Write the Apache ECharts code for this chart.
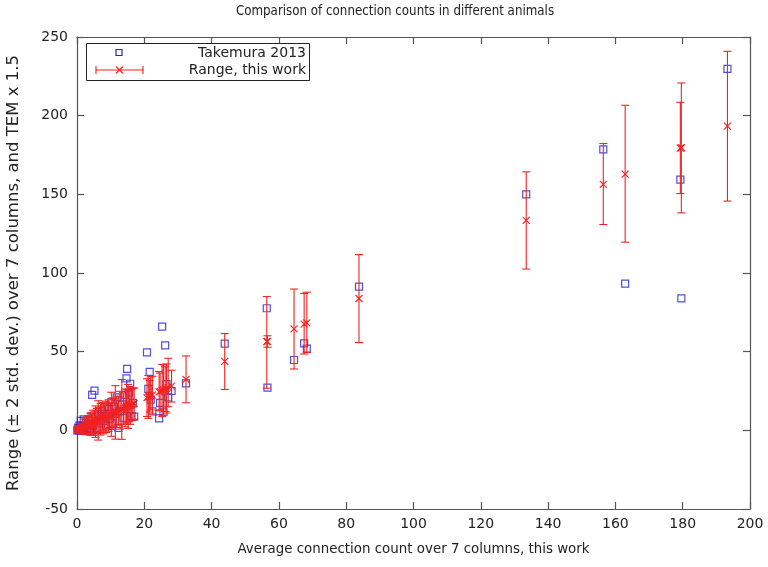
<!DOCTYPE html>
<html>
<head>
<meta charset="utf-8">
<script src="https://cdn.jsdelivr.net/npm/echarts@6/dist/echarts.min.js"></script>
<style>html,body{margin:0;padding:0;background:#fff;}#c{width:768px;height:567px;}</style>
</head>
<body>
<div id="c"></div>
<script>
// ---- data ----
const titleText = "Comparison of connection counts in different animals";
const xAxisName = "Average connection count over 7 columns, this work";
const yAxisName = "Range (\u00b1 2 std. dev.) over 7 columns, and TEM x 1.5";
const seriesNames = ["Takemura 2013", "Range, this work"];
const xTicks = [0, 20, 40, 60, 80, 100, 120, 140, 160, 180, 200];
const yTicks = [-50, 0, 50, 100, 150, 200, 250];

// average connection count (x), also the centre of the red range
const avgCount = [
  0.1, 0.3, 0.5, 0.7, 0.9, 1.1, 1.4, 1.7, 2.0, 2.3, 2.6, 3.0, 3.3, 3.6, 3.9, 4.2, 4.5, 4.8,
  5.2, 5.5, 5.9, 6.3, 6.6, 7.0, 7.4, 7.8, 8.2, 8.6, 9.0, 9.4, 9.8, 10.2, 10.6, 11.0, 11.4,
  11.8, 12.3, 12.8, 13.3, 13.8, 14.3, 14.7, 14.9, 15.2, 15.5, 15.8, 16.2, 16.6, 17.0,
  20.8, 21.2, 21.6, 21.9, 22.4, 24.4, 24.7, 25.3, 25.7, 26.2, 26.6, 27.1, 28.1, 32.4,
  43.9, 56.4, 56.6, 64.5, 67.5, 68.3, 83.8,
  133.5, 156.4, 162.9, 179.3, 179.6, 193.3
];
// lower end of range (mean - 2 sd)
const rangeLow = [
  -0.4, -0.7, -1.0, -1.3, -1.1, -1.9, -1.6, -2.3, -1.5, -2.7, -1.9, -2.5, -2.7, -1.4, -3.1, -2.8, -1.5, -3.2,
  -1.8, -4.5, -2.1, -6.2, -1.4, -3.0, -0.6, -2.2, 0.2, -1.4, 1.0, -0.6, 1.8, -3.8, 0.6, 2.0, -5.6,
  1.8, 3.3, 0.8, -5.7, 3.8, 2.3, 4.7, 3.9, 1.2, 5.5, 3.8, 6.2, 6.6, 7.0,
  8.8, 7.6, 11.6, 13.0, 10.4, 12.4, 13.0, 8.7, 9.7, 12.0, 11.0, 15.0, 18.0, 17.5,
  26.0, 26.8, 52.8, 39.0, 48.5, 49.5, 55.8,
  102.5, 130.8, 119.6, 150.5, 138.2, 145.7
];
// upper end of range (mean + 2 sd)
const rangeHigh = [
  0.6, 1.3, 2.0, 2.7, 2.9, 4.1, 4.4, 5.7, 5.5, 7.3, 7.1, 8.5, 9.3, 8.6, 10.9, 11.2, 10.5, 12.8,
  12.2, 15.5, 13.9, 18.8, 14.6, 17.0, 15.4, 17.8, 16.2, 18.6, 17.0, 19.4, 17.8, 24.2, 20.6, 20.0, 28.4,
  21.8, 21.3, 24.8, 32.3, 23.8, 26.3, 24.7, 25.9, 29.2, 25.5, 27.8, 26.2, 26.6, 27.0,
  32.8, 34.8, 31.6, 34.0, 34.4, 37.4, 36.4, 41.9, 41.7, 40.4, 42.2, 45.8, 38.2, 47.3,
  61.5, 85.0, 60.1, 89.8, 87.0, 87.8, 111.7,
  164.3, 182.3, 206.6, 208.5, 220.8, 240.9
];
// Takemura 2013 TEM counts x 1.5
const takemuraScaled = [
  0.0, 1.5, 0.0, 3.0, 1.5, 6.0, 0.0, 3.0, 7.0, 1.5, 4.5, 0.0, 6.0, 3.0, 1.5, 7.5, 22.5, 3.0,
  25.2, 6.0, 1.5, 10.5, 4.5, 9.0, 12.0, 6.0, 15.0, 3.0, 10.5, 13.5, 7.5, 18.0, 4.5, 15.0, 10.5,
  21.0, 1.5, 12.0, 16.5, 8.0, 22.5, 33.0, 39.0, 13.5, 24.0, 29.6, 9.0, 17.5, 8.7,
  49.6, 26.4, 37.1, 19.5, 12.0, 7.6, 17.5, 65.9, 11.8, 54.0, 29.4, 21.0, 25.0, 29.9,
  55.1, 77.6, 27.1, 44.7, 55.3, 51.9, 91.3,
  150.0, 178.6, 93.2, 159.3, 83.9, 229.7
];

// ---- build chart ----
const BLUE = '#2424d0';
const RED = '#f22222';
const FRAME = '#555555';
const FONT = 'DejaVu Sans';

const blueData = avgCount.map((x, i) => [x, takemuraScaled[i]]);
const redData = avgCount.map((x, i) => [x, rangeLow[i], rangeHigh[i], x]);

function renderErr(params, api) {
  const x = api.value(0);
  const lo = api.coord([x, api.value(1)]);
  const hi = api.coord([x, api.value(2)]);
  const mid = api.coord([x, api.value(3)]);
  const c = 4, m = 3.5;
  const st = { stroke: RED, lineWidth: 1.1, fill: null };
  return {
    type: 'group',
    children: [
      { type: 'line', shape: { x1: lo[0], y1: lo[1], x2: hi[0], y2: hi[1] }, style: st },
      { type: 'line', shape: { x1: lo[0] - c, y1: lo[1], x2: lo[0] + c, y2: lo[1] }, style: st },
      { type: 'line', shape: { x1: hi[0] - c, y1: hi[1], x2: hi[0] + c, y2: hi[1] }, style: st },
      { type: 'line', shape: { x1: mid[0] - m, y1: mid[1] - m, x2: mid[0] + m, y2: mid[1] + m }, style: st },
      { type: 'line', shape: { x1: mid[0] - m, y1: mid[1] + m, x2: mid[0] + m, y2: mid[1] - m }, style: st }
    ]
  };
}

function axisCommon() {
  return {
    axisLine: { show: true, onZero: false, lineStyle: { color: FRAME, width: 1.2 } },
    axisTick: { show: true, inside: true, length: 7, lineStyle: { color: FRAME, width: 1.2 } },
    splitLine: { show: false }
  };
}

const chart = echarts.init(document.getElementById('c'), null, { renderer: 'canvas' });
chart.setOption({
  animation: false,
  backgroundColor: '#ffffff',
  textStyle: { fontFamily: FONT },
  grid: { left: 77, right: 18, top: 37, bottom: 58, containLabel: false, outerBoundsMode: 'none' },
  xAxis: [
    Object.assign({
      type: 'value', min: xTicks[0], max: xTicks[xTicks.length - 1], interval: xTicks[1] - xTicks[0],
      name: xAxisName, nameLocation: 'middle', nameGap: 34,
      nameTextStyle: { fontSize: 13.4, color: '#222', fontFamily: FONT },
      axisLabel: { fontSize: 14, color: '#222', margin: 8, fontFamily: FONT }
    }, axisCommon()),
    Object.assign({
      type: 'value', position: 'top', min: xTicks[0], max: xTicks[xTicks.length - 1], interval: xTicks[1] - xTicks[0],
      axisLabel: { show: false }
    }, axisCommon())
  ],
  yAxis: [
    Object.assign({
      type: 'value', min: yTicks[0], max: yTicks[yTicks.length - 1], interval: yTicks[1] - yTicks[0],
      name: yAxisName, nameLocation: 'middle', nameGap: 55,
      nameTextStyle: { fontSize: 16.5, color: '#222', fontFamily: FONT },
      axisLabel: { fontSize: 14, color: '#222', margin: 9, fontFamily: FONT }
    }, axisCommon()),
    Object.assign({
      type: 'value', position: 'right', min: yTicks[0], max: yTicks[yTicks.length - 1], interval: yTicks[1] - yTicks[0],
      axisLabel: { show: false }
    }, axisCommon())
  ],
  series: [
    {
      name: seriesNames[0], type: 'scatter', data: blueData, symbol: 'rect', symbolSize: 7,
      itemStyle: { color: 'rgba(0,0,0,0)', borderColor: BLUE, borderWidth: 1.2 },
      z: 2
    },
    {
      name: seriesNames[1], type: 'custom', data: redData, renderItem: renderErr,
      encode: { x: 0, y: [1, 2] }, z: 3
    }
  ],
  graphic: [
    { type: 'text', x: 395, y: 11, scaleX: 0.88, style: { text: titleText, align: 'center', verticalAlign: 'middle', fill: '#222', font: '13.5px ' + FONT } },
    { type: 'rect', shape: { x: 86.5, y: 43.5, width: 223, height: 37 }, style: { fill: '#fff', stroke: '#222', lineWidth: 1 }, z: 10 },
    { type: 'rect', shape: { x: 116, y: 49.5, width: 6, height: 6 }, style: { fill: null, stroke: BLUE, lineWidth: 1.2 }, z: 11 },
    { type: 'text', x: 306, y: 53, style: { text: seriesNames[0], align: 'right', verticalAlign: 'middle', fill: '#222', font: '14px ' + FONT }, z: 11 },
    { type: 'polyline', shape: { points: [[96, 70], [143, 70]] }, style: { stroke: RED, lineWidth: 1.1 }, z: 11 },
    { type: 'polyline', shape: { points: [[96, 66], [96, 74]] }, style: { stroke: RED, lineWidth: 1.1 }, z: 11 },
    { type: 'polyline', shape: { points: [[143, 66], [143, 74]] }, style: { stroke: RED, lineWidth: 1.1 }, z: 11 },
    { type: 'polyline', shape: { points: [[116, 66.5], [123, 73.5]] }, style: { stroke: RED, lineWidth: 1.1 }, z: 11 },
    { type: 'polyline', shape: { points: [[116, 73.5], [123, 66.5]] }, style: { stroke: RED, lineWidth: 1.1 }, z: 11 },
    { type: 'text', x: 306, y: 70, style: { text: seriesNames[1], align: 'right', verticalAlign: 'middle', fill: '#222', font: '14px ' + FONT }, z: 11 }
  ]
});
</script>
</body>
</html>
